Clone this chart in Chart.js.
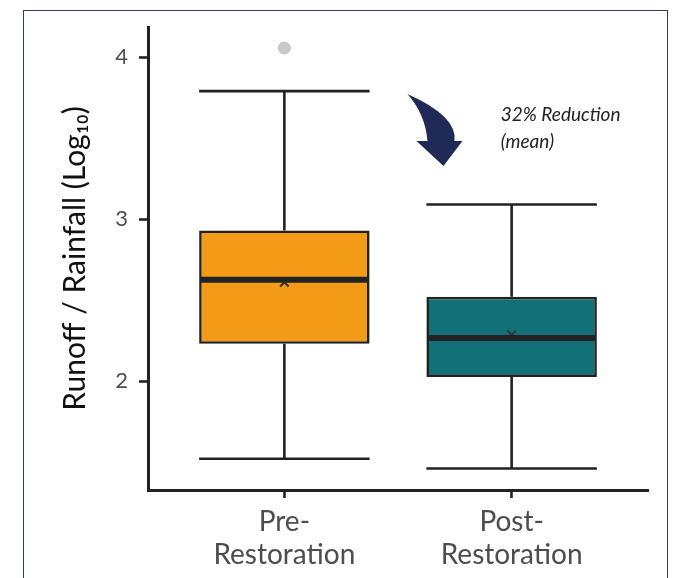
<!DOCTYPE html>
<html>
<head>
<meta charset="utf-8">
<script src="https://cdn.jsdelivr.net/npm/chart.js@4.4.1/dist/chart.umd.min.js"></script>
<style>
  html, body { margin: 0; padding: 0; background: #ffffff; }
  #wrap { position: relative; width: 677px; height: 578px; overflow: hidden; }
  #frame { position: absolute; left: 23px; top: 10px; width: 643px; height: 600px;
           border: 1.5px solid #2e3b6c; border-bottom: none; pointer-events: none; }
  canvas { position: absolute; left: 0; top: 0; }
</style>
</head>
<body>
<div id="wrap">
  <canvas id="chart" width="677" height="578"></canvas>
  <div id="frame"></div>
</div>
<script>
// Groups and their box-plot summaries (Runoff / Rainfall, log10)
const categories = ['Pre-Restoration', 'Post-Restoration'];
const tickLabels = [['Pre-', 'Restoration'], ['Post-', 'Restoration']];
const positions = [1, 2];
const whiskerLow = [1.52, 1.46];
const q1 = [2.23, 2.025];
const median = [2.625, 2.265];
const q3 = [2.93, 2.52];
const whiskerHigh = [3.79, 3.09];
const means = [2.61, 2.285];
const outliers = [[4.056], []];
const yTicks = [2, 3, 4];
const boxColors = ['#f39b16', '#117078'];
const annotationLines = ['32% Reduction', '(mean)'];

const INK = '#222222';
const FONT = 'Lato, "Open Sans", sans-serif';

// Whisker stems and caps, drawn behind the boxes
const whiskerPlugin = {
  id: 'whiskers',
  beforeDatasetsDraw(chart) {
    const { ctx, scales: { x, y } } = chart;
    const meta = chart.getDatasetMeta(0);
    ctx.save();
    ctx.strokeStyle = INK;
    ctx.lineWidth = 2.6;
    ctx.lineCap = 'butt';
    positions.forEach((p, i) => {
      const cx = x.getPixelForValue(p);
      const half = meta.data[i].width / 2;
      ctx.beginPath();
      ctx.moveTo(cx, y.getPixelForValue(whiskerLow[i]));
      ctx.lineTo(cx, y.getPixelForValue(q1[i]));
      ctx.moveTo(cx, y.getPixelForValue(q3[i]));
      ctx.lineTo(cx, y.getPixelForValue(whiskerHigh[i]));
      [whiskerLow[i], whiskerHigh[i]].forEach(v => {
        const py = y.getPixelForValue(v);
        ctx.moveTo(cx - half, py);
        ctx.lineTo(cx + half, py);
      });
      ctx.stroke();
    });
    ctx.restore();
  },
  // Median bars over the boxes and mean markers
  afterDatasetsDraw(chart) {
    const { ctx, scales: { x, y } } = chart;
    const meta = chart.getDatasetMeta(0);
    ctx.save();
    ctx.strokeStyle = INK;
    ctx.lineWidth = 6;
    positions.forEach((p, i) => {
      const cx = x.getPixelForValue(p);
      const half = meta.data[i].width / 2;
      const py = y.getPixelForValue(median[i]);
      ctx.beginPath();
      ctx.moveTo(cx - half + 1, py);
      ctx.lineTo(cx + half - 1, py);
      ctx.stroke();
    });
    ctx.restore();
  },
  // Curved arrow and the reduction note
  afterDraw(chart) {
    const { ctx, scales: { x, y } } = chart;
    const tx = x.getPixelForValue(1.70);
    const ty = y.getPixelForValue(3.327);
    ctx.save();
    ctx.fillStyle = '#1f2a56';
    ctx.beginPath();
    ctx.moveTo(tx - 36, ty - 72);
    ctx.quadraticCurveTo(tx + 14.5, ty - 49.5, tx + 11, ty - 25);
    ctx.lineTo(tx + 19, ty - 25);
    ctx.lineTo(tx, ty);
    ctx.lineTo(tx - 27, ty - 25);
    ctx.lineTo(tx - 16, ty - 25);
    ctx.quadraticCurveTo(tx - 18, ty - 51.5, tx - 36, ty - 72);
    ctx.closePath();
    ctx.fill();

    ctx.fillStyle = INK;
    ctx.font = 'italic 19px ' + FONT;
    ctx.textAlign = 'left';
    ctx.textBaseline = 'alphabetic';
    const ax = x.getPixelForValue(1.952);
    const ay = y.getPixelForValue(3.605);
    annotationLines.forEach((t, i) => ctx.fillText(t, ax, ay + i * 27));
    ctx.restore();
  }
};

new Chart(document.getElementById('chart'), {
  type: 'bar',
  data: {
    datasets: [
      {
        label: 'IQR',
        data: positions.map((p, i) => ({ x: p, y: [q1[i], q3[i]] })),
        backgroundColor: boxColors,
        borderColor: INK,
        borderWidth: 2.6,
        borderSkipped: false,
        barPercentage: 1,
        categoryPercentage: 0.75,
        order: 3
      },
      {
        type: 'scatter',
        label: 'Mean',
        data: positions.map((p, i) => ({ x: p, y: means[i] })),
        pointStyle: 'crossRot',
        pointRadius: 6,
        borderColor: '#333333',
        borderWidth: 2,
        order: 2
      },
      {
        type: 'scatter',
        label: 'Outliers',
        data: outliers.flatMap((vals, i) => vals.map(v => ({ x: positions[i], y: v }))),
        pointStyle: 'circle',
        pointRadius: 6,
        backgroundColor: '#c9c9c9',
        borderColor: '#c0c0c0',
        borderWidth: 1,
        order: 1
      }
    ]
  },
  plugins: [whiskerPlugin],
  options: {
    responsive: false,
    animation: false,
    events: [],
    layout: { padding: { top: 27, right: 29, left: 0, bottom: 0 } },
    plugins: { legend: { display: false }, tooltip: { enabled: false } },
    scales: {
      x: {
        type: 'linear',
        min: 0.4,
        max: 2.6,
        offset: false,
        afterBuildTicks: s => { s.ticks = positions.map(v => ({ value: v })); },
        afterFit: s => { s.height = 88; },
        ticks: {
          callback: (v, i) => tickLabels[i],
          color: '#4d4d4d',
          padding: 7,
          maxRotation: 0,
          autoSkip: false,
          font: { family: FONT, size: 28, lineHeight: 1.2 }
        },
        grid: { offset: false, drawOnChartArea: false, drawTicks: true, tickLength: 8, tickColor: INK, tickWidth: 2.6 },
        border: { display: true, color: INK, width: 3 }
      },
      y: {
        type: 'linear',
        min: 1.327,
        max: 4.186,
        afterBuildTicks: s => { s.ticks = yTicks.map(v => ({ value: v })); },
        afterFit: s => { s.width = 148; },
        ticks: {
          color: '#4d4d4d',
          padding: 11,
          font: { family: FONT, size: 22 }
        },
        grid: { drawOnChartArea: false, drawTicks: true, tickLength: 9, tickColor: INK, tickWidth: 2.6 },
        border: { display: true, color: INK, width: 3 },
        title: {
          display: true,
          text: 'Runoff / Rainfall (Log\u2081\u2080)',
          color: '#111111',
          padding: { top: 57 },
          font: { family: FONT, size: 30, lineHeight: 1.2 }
        }
      }
    }
  }
});
</script>
</body>
</html>
